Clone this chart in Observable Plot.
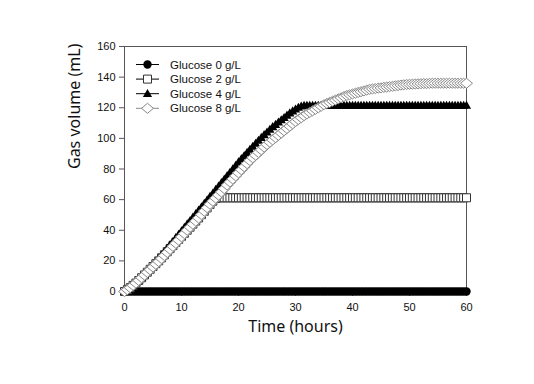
<!DOCTYPE html>
<html>
<head>
<meta charset="utf-8">
<script src="https://cdn.jsdelivr.net/npm/d3@7"></script>
<script src="https://cdn.jsdelivr.net/npm/@observablehq/plot@0.6"></script>
<style>
  html, body { margin: 0; padding: 0; background: #fff; }
  #chart svg { display: block; }
</style>
</head>
<body>
<div id="chart"></div>
<script>
// ---------- data ----------
const time = [
  0,0.5,1,1.5,2,2.5,3,3.5,4,4.5,
  5,5.5,6,6.5,7,7.5,8,8.5,9,9.5,
  10,10.5,11,11.5,12,12.5,13,13.5,14,14.5,
  15,15.5,16,16.5,17,17.5,18,18.5,19,19.5,
  20,20.5,21,21.5,22,22.5,23,23.5,24,24.5,
  25,25.5,26,26.5,27,27.5,28,28.5,29,29.5,
  30,30.5,31,31.5,32,32.5,33,33.5,34,34.5,
  35,35.5,36,36.5,37,37.5,38,38.5,39,39.5,
  40,40.5,41,41.5,42,42.5,43,43.5,44,44.5,
  45,45.5,46,46.5,47,47.5,48,48.5,49,49.5,
  50,50.5,51,51.5,52,52.5,53,53.5,54,54.5,
  55,55.5,56,56.5,57,57.5,58,58.5,59,59.5,
  60
];
const glucose0 = [
  0,0,0,0,0,0,0,0,0,0,
  0,0,0,0,0,0,0,0,0,0,
  0,0,0,0,0,0,0,0,0,0,
  0,0,0,0,0,0,0,0,0,0,
  0,0,0,0,0,0,0,0,0,0,
  0,0,0,0,0,0,0,0,0,0,
  0,0,0,0,0,0,0,0,0,0,
  0,0,0,0,0,0,0,0,0,0,
  0,0,0,0,0,0,0,0,0,0,
  0,0,0,0,0,0,0,0,0,0,
  0,0,0,0,0,0,0,0,0,0,
  0,0,0,0,0,0,0,0,0,0,
  0
];
const glucose2 = [
  0,1.2,2.5,4,5.5,7.2,9,10.8,12.6,14.5,
  16.3,18.2,20,22,24,26,28,30,32,34,
  36,38,40,42,44,46,48,50.2,52.4,54.6,
  56.8,59,60.8,61.2,61.2,61.2,61.2,61.2,61.2,61.2,
  61.2,61.2,61.2,61.2,61.2,61.2,61.2,61.2,61.2,61.2,
  61.2,61.2,61.2,61.2,61.2,61.2,61.2,61.2,61.2,61.2,
  61.2,61.2,61.2,61.2,61.2,61.2,61.2,61.2,61.2,61.2,
  61.2,61.2,61.2,61.2,61.2,61.2,61.2,61.2,61.2,61.2,
  61.2,61.2,61.2,61.2,61.2,61.2,61.2,61.2,61.2,61.2,
  61.2,61.2,61.2,61.2,61.2,61.2,61.2,61.2,61.2,61.2,
  61.2,61.2,61.2,61.2,61.2,61.2,61.2,61.2,61.2,61.2,
  61.2,61.2,61.2,61.2,61.2,61.2,61.2,61.2,61.2,61.2,
  61.2
];
const glucose4 = [
  0,1.2,2.5,4,5.7,7.5,9.3,11.2,13.2,15.2,
  17.3,19.4,21.5,23.7,26,28.2,30.5,32.7,35,37.2,
  39.5,41.7,44,46.2,48.5,50.7,53,55.2,57.5,59.7,
  62,64.2,66.5,68.7,71,73.2,75.5,77.7,80,82.2,
  84.5,86.6,88.7,90.7,92.7,94.7,96.7,98.6,100.5,102.3,
  104,105.8,107.5,109,110.5,112,113.5,115,116.5,117.8,
  119,120.2,121,121.4,121.5,121.5,121.5,121.5,121.5,121.5,
  121.5,121.5,121.5,121.5,121.5,121.5,121.5,121.5,121.5,121.5,
  121.5,121.5,121.5,121.5,121.5,121.5,121.5,121.5,121.5,121.5,
  121.5,121.5,121.5,121.5,121.5,121.5,121.5,121.5,121.5,121.5,
  121.5,121.5,121.5,121.5,121.5,121.5,121.5,121.5,121.5,121.5,
  121.5,121.5,121.5,121.5,121.5,121.5,121.5,121.5,121.5,121.5,
  121.5
];
const glucose8 = [
  0,1.2,2.5,4,5.5,7.2,9,10.7,12.5,14.2,
  16,17.8,19.6,21.5,23.5,25.5,27.5,29.5,31.5,33.5,
  35.7,37.8,40,42,44,46,48,50.2,52.5,54.7,
  57,59,61,63,65,67.2,69.5,71.5,73.5,75.5,
  77.5,79.5,81.5,83.5,85.5,87.3,89,90.8,92.5,94.3,
  96,97.5,99,100.5,102,103.5,105,106.5,108,109.5,
  111,112.3,113.5,114.8,116,117,118,119,120,121,
  122,122.8,123.5,124.3,125,125.8,126.5,127.3,128,128.5,
  129,129.5,130,130.5,131,131.5,132,132.3,132.5,132.8,
  133,133.3,133.5,133.8,134,134.3,134.5,134.8,135,135.2,
  135.3,135.4,135.5,135.6,135.7,135.8,135.8,135.9,136,136,
  136,136,136,136,136,136,136,136,136,136,
  136
];
const seriesNames = ["Glucose 0 g/L", "Glucose 2 g/L", "Glucose 4 g/L", "Glucose 8 g/L"];
const xTicks = [0, 10, 20, 30, 40, 50, 60];
const yTicks = [0, 20, 40, 60, 80, 100, 120, 140, 160];
const xLabel = "Time (hours)";
const yLabel = "Gas volume (mL)";

// ---------- symbols ----------
const squareSym = {draw(c) { c.moveTo(-4, -4); c.lineTo(4, -4); c.lineTo(4, 4); c.lineTo(-4, 4); c.closePath(); }};
const triangleSym = {draw(c) { c.moveTo(0, -4.8); c.lineTo(4.6, 3.3); c.lineTo(-4.6, 3.3); c.closePath(); }};
const diamondSym = {draw(c) { c.moveTo(0, -5); c.lineTo(6, 0); c.lineTo(0, 5); c.lineTo(-6, 0); c.closePath(); }};

const styles = [
  {values: glucose0, symbol: "circle", r: 4.2, fill: "#000", stroke: "none", line: "#000"},
  {values: glucose2, symbol: squareSym, r: 4, fill: "#fff", stroke: "#333", line: "#000"},
  {values: glucose4, symbol: triangleSym, r: 4, fill: "#000", stroke: "none", line: "#000"},
  {values: glucose8, symbol: diamondSym, r: 4, fill: "#fff", stroke: "#8a8a8a", line: "#8a8a8a"}
];

const seriesMarks = [];
styles.forEach((st, k) => {
  const rows = time.map((t, i) => ({t, v: st.values[i], s: seriesNames[k]}));
  seriesMarks.push(Plot.line(rows, {x: "t", y: "v", stroke: st.line, strokeWidth: 1}));
  seriesMarks.push(Plot.dot(rows, {x: "t", y: "v", symbol: st.symbol, r: st.r, fill: st.fill,
    stroke: st.stroke, strokeWidth: 1}));
});

const chart = Plot.plot({
  width: 534,
  height: 384,
  marginLeft: 124,
  marginRight: 68,
  marginTop: 46,
  marginBottom: 93,
  style: {fontFamily: "'Liberation Sans', Arial, sans-serif", fontSize: "11px", color: "#111", background: "#fff"},
  x: {domain: [0, 60]},
  y: {domain: [0, 160]},
  marks: [
    Plot.frame({stroke: "#555"}),
    Plot.axisY(yTicks, {tickSize: 5, tickPadding: 4, label: null, stroke: "#555", fontSize: 11}),
    Plot.axisX(xTicks, {tickSize: 5, tickPadding: 7, label: null, stroke: "#555", fontSize: 11}),
    ...seriesMarks,
    Plot.text([yLabel], {frameAnchor: "left", dx: -50, rotate: -90, text: d => d, fontSize: 16,
      fontFamily: "'Noto Sans', 'Open Sans', sans-serif", fill: "#111"}),
    Plot.text([xLabel], {frameAnchor: "bottom", dy: 40, text: d => d, fontSize: 16,
      fontFamily: "'Noto Sans', 'Open Sans', sans-serif", fill: "#111"})
  ]
});
document.getElementById("chart").appendChild(chart);

// ---------- legend (inside plot, top-left) ----------
const svg = d3.select(chart);
const lg = svg.append("g").attr("class", "legend");
seriesNames.forEach((name, k) => {
  const st = styles[k];
  const y = 64.5 + k * 14.6;
  const g = lg.append("g").attr("transform", `translate(0,${y})`);
  g.append("line").attr("x1", 136).attr("x2", 159).attr("y1", 0).attr("y2", 0)
    .attr("stroke", st.line).attr("stroke-width", 1);
  let d;
  if (st.symbol === "circle") {
    d = d3.symbol(d3.symbolCircle, Math.PI * st.r * st.r)();
  } else {
    const p = d3.path(); st.symbol.draw(p); d = p.toString();
  }
  g.append("path").attr("d", d).attr("transform", "translate(147.5,0)")
    .attr("fill", st.fill).attr("stroke", st.stroke).attr("stroke-width", 1);
  g.append("text").attr("x", 170).attr("y", 0).attr("dy", "0.36em")
    .attr("text-anchor", "start")
    .attr("font-size", 11.5).attr("fill", "#111").text(name);
});
</script>
</body>
</html>
